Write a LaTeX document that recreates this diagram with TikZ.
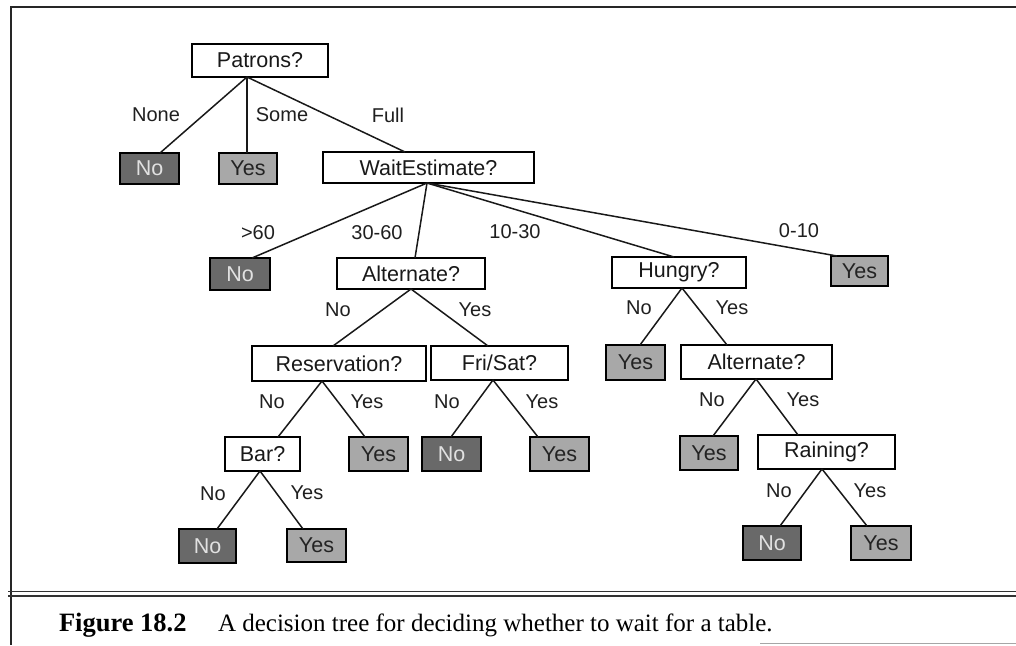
\documentclass[tikz,border=0pt]{standalone}
\usepackage{fontspec}
\setmainfont{Liberation Serif}
\setsansfont{Liberation Sans}
\begin{document}
\begin{tikzpicture}[x=1pt,y=-1pt,
  every node/.style={inner sep=0pt, outer sep=0pt},
  test/.style={draw, line width=1.7pt, fill=white, text=black!90,
    font=\sffamily\fontsize{21.5}{24}\selectfont},
  noleaf/.style={draw, line width=1.7pt, fill=nofill, text=notext,
    font=\sffamily\fontsize{21.5}{24}\selectfont},
  yesleaf/.style={draw, line width=1.7pt, fill=yesfill, text=yestext,
    font=\sffamily\fontsize{21.5}{24}\selectfont},
  lab/.style={font=\sffamily\fontsize{20}{24}\selectfont, text=black!88},
  edge/.style={line width=1.5pt, black!90},
  frame/.style={line width=1.8pt, black!85}]
\definecolor{nofill}{RGB}{105,105,105}
\definecolor{notext}{RGB}{225,225,225}
\definecolor{yesfill}{RGB}{168,168,168}
\definecolor{yestext}{RGB}{35,35,35}
\useasboundingbox (0,0) rectangle (1016,645);

% page rules
\draw[frame] (1016,7) -- (11,7) -- (11,645);
\draw[line width=1.3pt, black!80] (8,591.5) -- (1016,591.5);
\draw[line width=1.3pt, black!80] (8,596) -- (1016,596);
\draw[line width=1pt, black!35] (760,643) -- (1016,643);

% level 0
\node[test, minimum width=136, minimum height=33] (pat) at (260,60.5) {Patrons?};
% level 1
\node[noleaf, minimum width=59, minimum height=31] (n1) at (149.5,168.5) {No};
\node[yesleaf, minimum width=58, minimum height=31] (y1) at (248,168.5) {Yes};
\node[test, minimum width=211, minimum height=31] (wait) at (428.5,167.5) {WaitEstimate?};
% level 2
\node[noleaf, minimum width=60, minimum height=32] (n2) at (240,274) {No};
\node[test, minimum width=148, minimum height=31] (alt1) at (411,273.5) {Alternate?};
\node[test, minimum width=134, minimum height=31] (hun) at (679,272.5) {Hungry?};
\node[yesleaf, minimum width=57, minimum height=30] (y2) at (859.5,271) {Yes};
% level 3
\node[test, minimum width=174, minimum height=35] (res) at (339,363.5) {Reservation?};
\node[test, minimum width=137, minimum height=34] (fri) at (499.5,363) {Fri/Sat?};
\node[yesleaf, minimum width=59, minimum height=35] (y3) at (635.5,362.5) {Yes};
\node[test, minimum width=151, minimum height=34] (alt2) at (756.5,362) {Alternate?};
% level 4
\node[test, minimum width=75, minimum height=34] (bar) at (262.5,454) {Bar?};
\node[yesleaf, minimum width=59, minimum height=34] (y4) at (378.5,454) {Yes};
\node[noleaf, minimum width=59, minimum height=34] (n3) at (451.5,454) {No};
\node[yesleaf, minimum width=59, minimum height=34] (y5) at (559.5,454) {Yes};
\node[yesleaf, minimum width=58, minimum height=34] (y6) at (709,453) {Yes};
\node[test, minimum width=137, minimum height=34] (rain) at (826.5,452) {Raining?};
% level 5
\node[noleaf, minimum width=57, minimum height=34] (n4) at (207.5,546) {No};
\node[yesleaf, minimum width=59, minimum height=33] (y7) at (316.5,545.5) {Yes};
\node[noleaf, minimum width=58, minimum height=34] (n5) at (772,543) {No};
\node[yesleaf, minimum width=60, minimum height=34] (y8) at (881,543) {Yes};

% branches
\draw[edge] ([xshift=-13]pat.south) -- ([xshift=10.5]n1.north);
\draw[edge] ([xshift=-13]pat.south) -- ([xshift=-1]y1.north);
\draw[edge] ([xshift=-13]pat.south) -- ([xshift=-23.5]wait.north);

\draw[edge] ([xshift=-1.5]wait.south) -- ([xshift=12]n2.north);
\draw[edge] ([xshift=-1.5]wait.south) -- ([xshift=4]alt1.north);
\draw[edge] ([xshift=-1.5]wait.south) -- ([xshift=-5]hun.north);
\draw[edge] ([xshift=-1.5]wait.south) -- ([xshift=-22.5]y2.north);

\draw[edge] (alt1.south) -- ([xshift=-6]res.north);
\draw[edge] (alt1.south) -- ([xshift=-11.5]fri.north);

\draw[edge] ([xshift=-17]res.south) -- ([xshift=15.5]bar.north);
\draw[edge] ([xshift=-17]res.south) -- ([xshift=-13.5]y4.north);

\draw[edge] ([xshift=-6.5]fri.south) -- ([xshift=-0.5]n3.north);
\draw[edge] ([xshift=-6.5]fri.south) -- ([xshift=-21.5]y5.north);

\draw[edge] ([xshift=3]hun.south) -- ([xshift=4.5]y3.north);
\draw[edge] ([xshift=3]hun.south) -- ([xshift=-29.5]alt2.north);

\draw[edge] ([xshift=-0.5]alt2.south) -- ([xshift=4]y6.north);
\draw[edge] ([xshift=-0.5]alt2.south) -- ([xshift=-28.5]rain.north);

\draw[edge] ([xshift=-2.5]bar.south) -- ([xshift=9.5]n4.north);
\draw[edge] ([xshift=-2.5]bar.south) -- ([xshift=-13.5]y7.north);

\draw[edge] ([xshift=-4.5]rain.south) -- ([xshift=8]n5.north);
\draw[edge] ([xshift=-4.5]rain.south) -- ([xshift=-14]y8.north);

% branch labels
\node[lab] (lNone) at (156,115) {None};
\node[lab] (lSome) at (282,115) {Some};
\node[lab] (lFull) at (388,115) {Full};
\node[lab] (lg60) at (258,233) {>60};
\node[lab] (l3060) at (377,233) {30-60};
\node[lab] (l1030) at (515,232) {10-30};
\node[lab] (l010) at (799,231) {0-10};
\node[lab] (la1n) at (338,310) {No};
\node[lab] (la1y) at (475,310) {Yes};
\node[lab] (lhn) at (639,308) {No};
\node[lab] (lhy) at (732,308) {Yes};
\node[lab] (lrn) at (272,402) {No};
\node[lab] (lry) at (367,402) {Yes};
\node[lab] (lfn) at (447,402) {No};
\node[lab] (lfy) at (542,402) {Yes};
\node[lab] (la2n) at (712,400) {No};
\node[lab] (la2y) at (803,400) {Yes};
\node[lab] (lbn) at (213,494) {No};
\node[lab] (lby) at (307,493) {Yes};
\node[lab] (lrain) at (779,491) {No};
\node[lab] (lrainy) at (870,491) {Yes};

% caption
\node[anchor=base west, font=\fontsize{26.5}{30}\selectfont\bfseries] (fig) at (59,631) {Figure 18.2};
\node[anchor=base west, font=\fontsize{25}{28}\selectfont] (cap) at (218,631) {A decision tree for deciding whether to wait for a table.};
\end{tikzpicture}
\end{document}
